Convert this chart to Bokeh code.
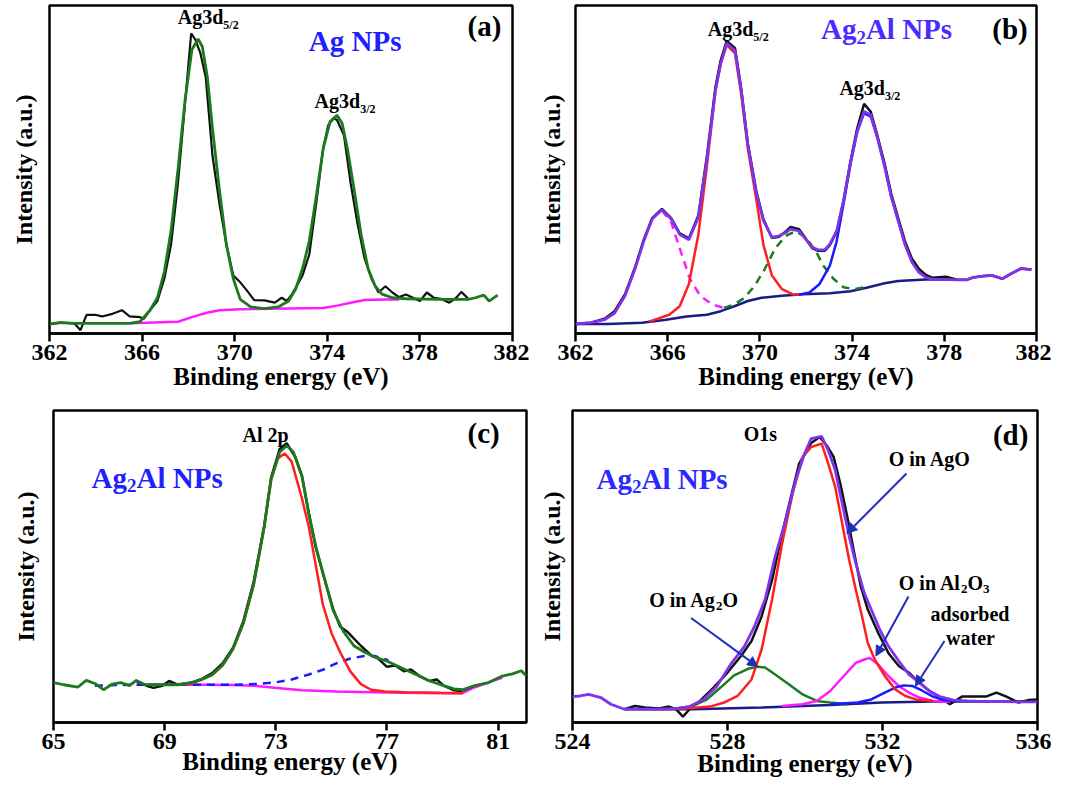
import math
from bokeh.plotting import figure
from bokeh.layouts import column, row
from bokeh.models import Range1d, FixedTicker, Label, Arrow, NormalHead
from bokeh.embed import file_html
from bokeh.resources import INLINE

FONT = "Liberation Serif"

# ---------------- data: panel (a) Ag NPs ----------------
a_raw_x = [362.0, 362.48, 363.07, 363.34, 363.60, 363.97, 364.27, 364.72, 365.13, 365.46, 365.91, 366.06,
           366.36, 366.66, 366.96, 367.25, 367.55, 367.85, 368.12, 368.30, 368.52, 368.75, 369.04, 369.34,
           369.64, 369.94, 370.24, 370.54, 370.84, 371.28, 371.73, 372.03, 372.25, 372.48, 372.93, 373.22,
           373.52, 373.82, 374.04, 374.27, 374.42, 374.72, 375.01, 375.31, 375.61, 375.91, 376.21, 376.51,
           376.81, 377.10, 377.40, 377.70, 378.00, 378.30, 378.60, 378.90, 379.27, 379.57, 379.79, 380.09]
a_raw_y = [2.9, 3.3, 3.1, 1.0, 5.7, 5.7, 5.2, 6.0, 7.1, 5.2, 5.0, 4.4,
           7.3, 9.9, 16.7, 27.1, 45.8, 69.8, 91.5, 89.6, 85.4, 78.1, 54.2, 39.6,
           27.1, 17.7, 15.6, 13.0, 10.2, 10.1, 9.4, 10.9, 9.9, 12.0, 17.7, 24.0,
           39.6, 56.3, 63.5, 65.6, 65.1, 60.4, 45.8, 33.3, 22.9, 16.7, 12.5, 14.4,
           12.5, 11.1, 11.9, 10.9, 9.9, 12.5, 10.9, 10.6, 9.4, 10.9, 12.7, 10.6]
a_fit_x = [362.0, 362.48, 363.07, 364.0, 365.0, 365.46, 365.91, 366.36, 366.66, 366.96, 367.25, 367.55,
           367.85, 368.15, 368.42, 368.60, 368.82, 369.04, 369.34, 369.64, 369.94, 370.24, 370.69, 371.28,
           371.88, 372.33, 372.63, 372.93, 373.22, 373.52, 373.82, 374.12, 374.42, 374.64, 374.87, 375.16,
           375.46, 375.76, 376.06, 376.36, 376.81, 377.40, 378.90, 380.09, 380.39, 380.76, 380.99, 381.36]
a_fit_y = [2.9, 3.3, 3.1, 3.1, 3.1, 3.1, 3.6, 7.3, 10.9, 18.8, 31.3, 50.0,
           70.8, 86.5, 89.8, 87.5, 78.1, 62.5, 43.8, 27.1, 16.7, 10.4, 8.1, 7.6,
           8.1, 9.9, 13.5, 19.8, 28.1, 41.7, 56.3, 64.6, 66.5, 64.1, 56.3, 43.8,
           30.2, 19.8, 14.6, 12.0, 10.9, 10.6, 10.4, 10.4, 10.9, 11.7, 9.9, 11.7]
a_bg_x = [365.46, 367.55, 368.15, 368.75, 369.34, 370.24, 373.82, 374.42, 375.01, 375.61, 376.51, 377.10]
a_bg_y = [3.1, 3.6, 5.0, 6.25, 7.1, 7.4, 7.8, 8.5, 9.4, 10.2, 10.4, 10.4]

# ---------------- data: panel (b) Ag2Al NPs, Ag 3d ----------------
b_x = [362.00, 362.67, 363.26, 363.70, 364.15, 364.59, 364.96, 365.33, 365.75, 366.15, 366.52, 366.92,
       367.33, 367.70, 368.07, 368.30, 368.56, 368.92, 369.19, 369.48, 369.85, 370.15, 370.52, 370.81,
       371.11, 371.33, 371.70, 372.00, 372.27, 372.52, 372.81, 373.04, 373.33, 373.63, 373.93, 374.22,
       374.52, 374.81, 375.11, 375.41, 375.70, 376.00, 376.30, 376.59, 376.89, 377.19, 377.48, 378.07,
       378.52, 378.96, 379.26, 379.70, 380.07, 380.52, 380.89, 381.33, 381.78]
b_env_y = [2.9, 3.3, 4.2, 6.25, 11.5, 19.8, 28.1, 34.9, 37.7, 34.9, 30.2, 28.6,
           35.4, 53.1, 74.0, 82.3, 88.5, 86.3, 74.0, 57.3, 42.7, 34.4, 29.4, 29.7,
           30.7, 31.8, 31.25, 28.6, 26.25, 25.5, 25.5, 27.3, 31.25, 40.6, 52.1, 61.5,
           67.7, 66.7, 59.4, 51.0, 41.7, 34.4, 27.1, 21.9, 18.75, 17.2, 16.5, 16.5,
           16.35, 16.35, 17.1, 17.5, 17.7, 16.7, 18.2, 19.8, 19.5]
b_raw_y = [2.9, 3.3, 4.5, 6.8, 12.0, 20.3, 28.6, 35.2, 38.0, 35.2, 30.5, 29.0,
           36.0, 54.0, 75.0, 83.3, 89.2, 87.0, 74.6, 57.8, 43.2, 34.9, 29.2, 29.4,
           31.0, 32.5, 31.8, 28.8, 26.0, 25.2, 25.2, 27.0, 31.0, 40.5, 52.5, 62.5,
           70.0, 67.6, 60.0, 51.8, 42.5, 35.2, 28.0, 22.9, 19.8, 17.9, 17.0, 17.3,
           16.5, 16.35, 17.1, 17.5, 17.7, 16.7, 18.2, 19.8, 19.5]
b_d52_x = [365.19, 365.63, 366.07, 366.52, 366.92, 367.33, 367.70, 368.07, 368.30, 368.56, 368.92, 369.19,
           369.48, 369.85, 370.15, 370.52, 370.96, 371.41, 371.70]
b_d52_y = [3.6, 4.7, 5.7, 8.3, 15.1, 30.2, 51.0, 74.0, 82.3, 88.0, 85.4, 72.9,
           56.25, 40.6, 27.1, 17.7, 13.5, 12.0, 11.8]
b_d32_x = [371.70, 372.15, 372.59, 373.04, 373.33, 373.63, 373.93, 374.22, 374.52, 374.81, 375.11, 375.41,
           375.70, 376.00, 376.30, 376.59, 376.89, 377.19]
b_d32_y = [11.8, 12.5, 15.1, 20.8, 28.1, 39.6, 51.6, 61.5, 67.2, 66.1, 59.4, 51.0,
           41.7, 34.4, 27.1, 21.9, 18.75, 17.2]
b_sat1_x = [365.75, 366.15, 366.52, 366.96, 367.41, 367.93, 368.44]
b_sat1_y = [37.5, 33.9, 26.0, 16.7, 11.5, 8.85, 7.8]
b_sat2_x = [368.44, 368.89, 369.33, 369.78, 370.22, 370.67, 371.11, 371.56, 372.00, 372.44, 372.74, 373.19,
            373.63, 374.07, 374.52]
b_sat2_y = [7.8, 8.85, 10.9, 14.6, 19.8, 26.0, 29.7, 31.25, 29.2, 25.0, 20.8, 16.7,
            14.1, 13.5, 14.1]
b_bg_x = [362.00, 363.41, 364.89, 365.93, 366.81, 367.70, 368.30, 368.89, 369.48, 370.07, 370.96, 371.85,
          373.04, 373.93, 374.67, 375.41, 376.00, 377.19, 378.37]
b_bg_y = [2.9, 2.9, 3.3, 4.2, 5.2, 5.7, 6.8, 8.3, 9.9, 10.9, 11.5, 12.0,
          12.3, 12.9, 14.0, 15.3, 16.0, 16.5, 16.5]

# ---------------- data: panel (c) Al 2p ----------------
c_fit_x = [65.00, 65.37, 65.87, 66.18, 66.49, 66.80, 67.11, 67.42, 67.73, 67.98, 68.29, 68.98,
           69.47, 69.97, 70.34, 70.71, 71.09, 71.46, 71.83, 72.20, 72.58, 72.83, 73.14, 73.39,
           73.63, 73.94, 74.19, 74.44, 74.75, 75.06, 75.43, 75.81, 76.18, 76.55, 77.05, 77.55,
           78.04, 78.54, 79.04, 79.41, 79.72, 80.16, 80.65, 81.15, 81.52, 81.83, 82.02]
c_fit_y = [12.8, 12.1, 11.3, 13.5, 12.5, 10.5, 12.3, 12.8, 11.8, 13.5, 12.1, 12.1,
           12.1, 12.8, 13.8, 15.4, 18.5, 23.6, 31.8, 44.1, 62.6, 77.9, 86.7, 88.7,
           86.7, 79.0, 66.7, 56.4, 46.2, 35.9, 29.2, 24.6, 22.6, 21.0, 19.5, 17.4,
           15.4, 13.3, 11.8, 10.8, 10.5, 11.8, 12.8, 14.9, 15.6, 16.6, 14.9]
c_raw_x = [67.98, 68.35, 68.60, 68.91, 69.16, 69.47, 69.97, 70.34, 70.71, 71.09, 71.46, 71.83,
           72.20, 72.58, 72.83, 73.14, 73.39, 73.70, 73.94, 74.19, 74.44, 74.75, 75.06, 75.31,
           75.56, 76.06, 76.43, 76.68, 76.99, 77.30, 77.61, 77.86, 78.17, 78.54, 78.79, 79.04,
           79.41, 79.66, 80.16]
c_raw_y = [13.3, 11.8, 11.1, 11.8, 13.3, 12.1, 12.8, 14.0, 15.8, 19.0, 24.0, 32.5,
           45.0, 63.0, 78.5, 87.7, 89.5, 85.1, 79.0, 67.0, 56.0, 46.0, 36.5, 30.8,
           29.2, 24.6, 21.5, 20.5, 17.9, 18.3, 16.4, 17.0, 14.9, 13.3, 13.8, 11.8,
           10.3, 10.1, 11.8]
c_al_x = [69.47, 69.97, 70.34, 70.71, 71.09, 71.46, 71.83, 72.20, 72.58, 72.83, 73.07, 73.32,
          73.57, 73.94, 74.19, 74.44, 74.69, 75.00, 75.31, 75.68, 76.06, 76.43, 76.93, 77.67,
          78.91, 79.72]
c_al_y = [12.1, 12.5, 13.8, 15.2, 18.3, 23.6, 31.8, 44.1, 62.6, 77.9, 84.6, 86.2,
          83.6, 71.8, 62.6, 50.3, 37.9, 28.7, 22.6, 16.4, 12.3, 10.5, 9.9, 9.7,
          9.5, 9.4]
c_ox_x = [66.49, 67.73, 68.98, 70.47, 71.46, 72.20, 72.95, 73.57, 74.19, 74.69, 75.19, 75.68,
          76.18, 76.55, 77.05]
c_ox_y = [11.8, 12.1, 12.1, 12.1, 12.1, 12.3, 12.8, 13.8, 15.4, 16.9, 19.0, 20.5,
          21.3, 21.3, 20.0]
c_bg_x = [67.98, 68.98, 70.22, 71.46, 72.20, 72.95, 73.94, 75.19, 76.43, 77.67, 78.91, 79.72,
          80.16, 80.65, 81.15]
c_bg_y = [12.1, 12.1, 12.1, 12.0, 11.8, 11.1, 10.3, 9.9, 9.7, 9.5, 9.4, 9.4,
          11.3, 12.8, 14.4]

# ---------------- data: panel (d) O 1s ----------------
d_env_x = [524.00, 524.19, 524.42, 524.73, 524.99, 525.34, 525.79, 526.23, 526.67, 527.02, 527.38, 527.73,
           528.08, 528.44, 528.70, 528.97, 529.23, 529.50, 529.76, 529.99, 530.16, 530.43, 530.60, 530.78,
           530.96, 531.14, 531.31, 531.53, 531.71, 531.93, 532.15, 532.42, 532.68, 532.95, 533.21, 533.48,
           533.83, 534.19, 534.63, 535.07, 535.51, 536.00]
d_env_y = [8.3, 8.5, 9.0, 8.0, 5.85, 4.26, 4.26, 4.26, 4.47, 5.1, 7.4, 11.7,
           18.6, 24.5, 30.9, 39.4, 53.2, 64.9, 77.7, 86.2, 91.0, 91.7, 87.2, 80.9,
           70.2, 59.6, 51.1, 41.5, 36.2, 29.8, 24.5, 19.7, 15.4, 12.8, 10.1, 8.3,
           7.2, 6.9, 6.7, 6.7, 6.6, 6.6]
d_raw_x = [525.34, 525.61, 525.87, 526.23, 526.49, 526.67, 526.85, 527.02, 527.29, 527.64, 528.00, 528.35,
           528.62, 528.88, 529.15, 529.41, 529.68, 529.85, 530.16, 530.38, 530.56, 530.74, 530.91, 531.09,
           531.27, 531.44, 531.62, 531.89, 532.15, 532.42, 532.68, 532.95, 533.21, 533.48, 533.74, 534.05,
           534.36, 534.67, 534.94, 535.20, 535.51, 535.78, 536.00]
d_raw_y = [4.26, 5.3, 4.8, 4.47, 5.1, 4.26, 1.9, 4.26, 6.9, 11.2, 16.0, 21.3,
           26.1, 34.0, 45.7, 60.6, 74.5, 83.0, 89.6, 91.5, 88.8, 85.1, 76.6, 66.0,
           54.3, 43.6, 36.2, 28.7, 22.3, 18.1, 16.0, 12.8, 10.1, 8.0, 5.85, 8.3,
           8.3, 8.3, 9.6, 8.3, 6.4, 7.2, 7.4]
d_ago_x = [526.23, 526.94, 527.55, 527.91, 528.26, 528.62, 528.88, 529.15, 529.41, 529.68, 529.94, 530.16,
           530.43, 530.60, 530.78, 530.96, 531.14, 531.31, 531.49, 531.62, 531.80, 532.06, 532.33, 532.59,
           532.86, 533.30]
d_ago_y = [4.26, 4.47, 5.1, 6.4, 8.5, 13.8, 23.4, 39.4, 57.4, 73.4, 85.1, 88.3,
           89.4, 83.0, 75.5, 63.8, 52.1, 42.6, 33.0, 25.5, 20.2, 14.9, 10.6, 8.5,
           7.4, 6.9]
d_ag2o_x = [526.67, 527.11, 527.47, 527.82, 528.17, 528.53, 528.79, 528.97, 529.23, 529.59, 529.94, 530.30,
            530.65, 531.09]
d_ag2o_y = [4.47, 5.3, 7.4, 11.2, 15.1, 17.2, 17.9, 17.6, 15.4, 12.2, 9.0, 6.9,
            6.4, 5.85]
d_al2o3_x = [529.41, 529.94, 530.30, 530.65, 531.00, 531.31, 531.53, 531.67, 531.89, 532.15, 532.42, 532.68,
             532.95, 533.30, 533.74]
d_al2o3_y = [5.3, 5.85, 6.9, 10.1, 14.9, 19.1, 20.2, 20.7, 18.6, 14.9, 11.7, 9.6,
             8.0, 6.9, 6.6]
d_h2o_x = [530.65, 531.36, 531.71, 532.06, 532.33, 532.55, 532.77, 533.04, 533.30, 533.57, 533.92]
d_h2o_y = [5.85, 6.4, 7.4, 9.6, 11.2, 11.9, 11.7, 10.1, 8.3, 7.2, 6.8]
d_bg_x = [525.34, 527.11, 528.88, 530.65, 531.98, 533.30, 536.00]
d_bg_y = [4.26, 4.26, 4.8, 5.6, 6.4, 6.7, 6.7]

a_ticks = [362, 366, 370, 374, 378, 382]
b_ticks = [362, 366, 370, 374, 378, 382]
c_ticks = [65, 69, 73, 77, 81]
d_ticks = [524, 528, 532, 536]

# ---------------- colours ----------------
BLACK = "#111111"
GREEN = "#1c7a1c"
MAGENTA = "#ff1aff"
RED = "#ff1f1f"
BLUE = "#1a1aff"
PURPLE = "#8033ee"
NAVY = "#1a1a88"
ARROW = "#1f2fb8"

# Times-bold advance widths (per 1000 em) to lay out rich text pieces
WID = {" ": 250, "(": 333, ")": 333, ".": 250, "/": 278, "A": 722, "B": 667, "N": 722, "O": 778,
       "P": 611, "V": 722, "a": 500, "b": 556, "c": 444, "d": 556, "e": 444, "g": 500, "i": 278,
       "l": 278, "n": 556, "o": 500, "p": 556, "r": 444, "s": 389, "t": 333, "u": 556, "w": 722,
       "y": 500}


def tw(s, size):
    return sum(WID.get(ch, 500) for ch in s) / 1000.0 * size


def rich(p, x, y, segs, color="black"):
    """segs: list of (text, size_px, dy_px); left edge of first piece at data x."""
    off = 0.0
    for t, s, dy in segs:
        p.add_layout(Label(x=x, y=y, x_offset=off, y_offset=dy, text=t,
                           text_font=FONT, text_font_style="bold",
                           text_font_size=f"{s}px", text_color=color,
                           text_align="left", text_baseline="middle"))
        off += tw(t, s)


def make_fig(xr, ticks, w, h, ml, mr, mt, mb, xstand, ystand, base="top"):
    p = figure(width=w, height=h, x_range=Range1d(*xr), y_range=Range1d(0, 100),
               output_backend="svg", toolbar_location=None,
               min_border_left=ml, min_border_right=mr, min_border_top=mt, min_border_bottom=mb)
    p.xgrid.visible = False
    p.ygrid.visible = False
    p.outline_line_color = "black"
    p.outline_line_width = 2.5
    p.outline_line_alpha = 1.0
    p.background_fill_color = "white"
    p.border_fill_color = "white"
    ax = p.xaxis[0]
    ax.ticker = FixedTicker(ticks=ticks, minor_ticks=[])
    ax.major_tick_out = 8
    ax.major_tick_in = 0
    ax.minor_tick_out = 0
    ax.minor_tick_in = 0
    ax.axis_line_width = 2.5
    ax.axis_line_color = "black"
    ax.major_tick_line_width = 2.5
    ax.major_tick_line_color = "black"
    ax.major_label_standoff = 3
    ax.major_label_text_font = FONT
    ax.major_label_text_font_style = "bold"
    ax.major_label_text_font_size = "24px"
    ax.major_label_text_color = "black"
    ax.major_label_text_line_height = 0.9
    ax.axis_label = "Binding energy (eV)"
    ax.axis_label_standoff = xstand
    ax.axis_label_text_font = FONT
    ax.axis_label_text_font_style = "bold"
    ax.axis_label_text_font_size = "25px"
    ax.axis_label_text_color = "black"
    ax.axis_label_text_line_height = 0.9
    ax.axis_label_text_baseline = base
    ay = p.yaxis[0]
    ay.ticker = FixedTicker(ticks=[], minor_ticks=[])
    ay.major_tick_out = 0
    ay.major_tick_in = 0
    ay.minor_tick_out = 0
    ay.minor_tick_in = 0
    ay.major_label_standoff = 0
    ay.axis_line_color = None
    ay.axis_label = "Intensity (a.u.)"
    ay.axis_label_standoff = ystand
    ay.axis_label_text_font = FONT
    ay.axis_label_text_font_style = "bold"
    ay.axis_label_text_font_size = "24px"
    ay.axis_label_text_color = "black"
    return p


# ---------------- panel (a) ----------------
pa = make_fig((362, 382), a_ticks, 529, 403, 49, 17, 5, 70, 0, 13)
pa.line(a_bg_x, a_bg_y, line_color=MAGENTA, line_width=2.5)
pa.line(a_raw_x, a_raw_y, line_color=BLACK, line_width=2.2)
pa.line(a_fit_x, a_fit_y, line_color=GREEN, line_width=2.8)
rich(pa, 367.54, 96.4, [("Ag3d", 20, 0), ("5/2", 12, -8)])
rich(pa, 373.45, 71.0, [("Ag3d", 20, 0), ("3/2", 12, -8)])
rich(pa, 373.20, 89.1, [("Ag NPs", 29, 0)], color="#2020ff")
rich(pa, 380.06, 93.75, [("(a)", 29, 0)])

# ---------------- panel (b) ----------------
pb = make_fig((362, 382), b_ticks, 522, 403, 46, 15, 3, 70, 0, 11)
pb.line(b_bg_x, b_bg_y, line_color=NAVY, line_width=2.5)
pb.line(b_sat1_x, b_sat1_y, line_color=MAGENTA, line_width=2.5, line_dash="8 6")
pb.line(b_sat2_x, b_sat2_y, line_color=GREEN, line_width=2.5, line_dash="8 6")
pb.line(b_d52_x, b_d52_y, line_color=RED, line_width=2.5)
pb.line(b_d32_x, b_d32_y, line_color=BLUE, line_width=2.5)
pb.line(b_x, b_raw_y, line_color=BLACK, line_width=2.5)
pb.line(b_x, b_env_y, line_color=PURPLE, line_width=2.8)
rich(pb, 367.74, 92.9, [("Ag3d", 20, 0), ("5/2", 12, -8)])
rich(pb, 373.45, 75.0, [("Ag3d", 20, 0), ("3/2", 12, -8)])
rich(pb, 372.65, 92.7, [("Ag", 29, 0), ("2", 19, -8), ("Al NPs", 29, 0)], color="#4a2cff")
rich(pb, 380.08, 92.7, [("(b)", 29, 0)])

# ---------------- panel (c) ----------------
pc = make_fig((65, 82.02), c_ticks, 529, 379, 53, 3, 7, 56, -4, 15, base="bottom")
pc.line(c_bg_x, c_bg_y, line_color=MAGENTA, line_width=2.5)
pc.line(c_ox_x, c_ox_y, line_color=BLUE, line_width=2.5, line_dash="8 6")
pc.line(c_raw_x, c_raw_y, line_color=BLACK, line_width=2.5)
pc.line(c_al_x, c_al_y, line_color=RED, line_width=2.5)
pc.line(c_fit_x, c_fit_y, line_color=GREEN, line_width=2.8)
rich(pc, 71.80, 92.3, [("Al 2p", 20, 0)])
rich(pc, 66.37, 78.5, [("Ag", 29, 0), ("2", 19, -8), ("Al NPs", 29, 0)], color="#1f1fff")
rich(pc, 79.90, 92.8, [("(c)", 29, 0)])

# ---------------- panel (d) ----------------
pd_ = make_fig((524, 536), d_ticks, 522, 379, 43, 14, 6, 60, -2, 8, base="middle")
pd_.line(d_bg_x, d_bg_y, line_color=NAVY, line_width=2.5)
pd_.line(d_raw_x, d_raw_y, line_color=BLACK, line_width=2.5)
pd_.line(d_ag2o_x, d_ag2o_y, line_color=GREEN, line_width=2.5)
pd_.line(d_al2o3_x, d_al2o3_y, line_color=MAGENTA, line_width=2.5)
pd_.line(d_h2o_x, d_h2o_y, line_color=BLUE, line_width=2.5)
pd_.line(d_ago_x, d_ago_y, line_color=RED, line_width=2.5)
pd_.line(d_env_x, d_env_y, line_color=PURPLE, line_width=2.8)
rich(pd_, 528.42, 92.6, [("O1s", 20, 0)])
rich(pd_, 524.62, 78.2, [("Ag", 29, 0), ("2", 19, -8), ("Al NPs", 29, 0)], color="#2a2aff")
rich(pd_, 534.85, 92.0, [("(d)", 29, 0)])
rich(pd_, 532.16, 84.3, [("O in AgO", 20, 0)])
rich(pd_, 525.98, 39.4, [("O in Ag", 20, 0), ("2", 13, -6), ("O", 20, 0)])
rich(pd_, 532.42, 44.7, [("O in Al", 20, 0), ("2", 13, -6), ("O", 20, 0), ("3", 13, -6)])
rich(pd_, 533.24, 34.9, [("adsorbed", 20, 0)])
rich(pd_, 533.64, 27.1, [("water", 20, 0)])

arrows = [
    (532.62, 79.8, 531.08, 60.6),
    (527.06, 33.5, 528.78, 17.9),
    (532.67, 40.4, 531.83, 21.3),
    (533.60, 26.1, 532.85, 11.7),
]
for xs, ys, xe, ye in arrows:
    pd_.add_layout(Arrow(end=NormalHead(size=10, fill_color=ARROW, line_color=ARROW),
                         x_start=xs, y_start=ys, x_end=xe, y_end=ye,
                         line_color=ARROW, line_width=2))

layout = column(row(pa, pb), row(pc, pd_))
open("out.html", "w").write(file_html(layout, INLINE))
